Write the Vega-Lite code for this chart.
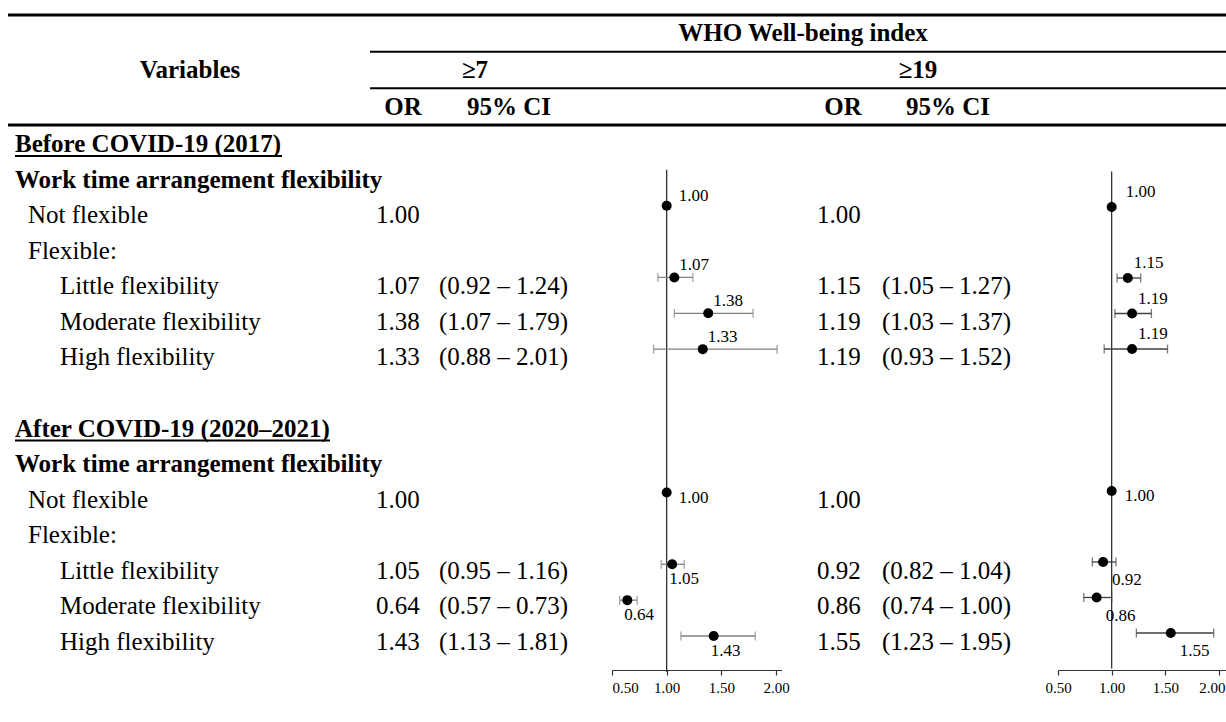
{
  "$schema": "https://vega.github.io/schema/vega-lite/v6.json",
  "width": 1226,
  "height": 722,
  "padding": 0,
  "autosize": {"type": "none"},
  "background": "white",
  "config": {
    "view": {"stroke": null},
    "font": "Liberation Serif",
    "text": {"font": "Liberation Serif", "color": "black"}
  },
  "datasets": {
    "header": [
      {"text": "WHO Well-being index", "level": 1, "col": 6},
      {"text": "Variables", "level": 3, "col": 1},
      {"text": "≥7", "level": 3, "col": 4},
      {"text": "≥19", "level": 3, "col": 8},
      {"text": "OR", "level": 5, "col": 3},
      {"text": "95% CI", "level": 5, "col": 5},
      {"text": "OR", "level": 5, "col": 7},
      {"text": "95% CI", "level": 5, "col": 9}
    ],
    "hrules": [
      {"level": 0, "from": 0, "to": 10, "rule": "outer"},
      {"level": 2, "from": 2, "to": 10, "rule": "inner"},
      {"level": 4, "from": 2, "to": 10, "rule": "inner"},
      {"level": 6, "from": 0, "to": 10, "rule": "outer"}
    ],
    "rows": [
      {"k": 0, "label": "Before COVID-19 (2017)", "type": "period", "indent": 0, "period": "Before"},
      {"k": 1, "label": "Work time arrangement flexibility", "type": "variable", "indent": 0, "period": "Before"},
      {"k": 2, "label": "Not flexible", "type": "category", "indent": 1, "period": "Before", "or7": 1.00, "or19": 1.00},
      {"k": 3, "label": "Flexible:", "type": "group", "indent": 1, "period": "Before"},
      {"k": 4, "label": "Little flexibility", "type": "category", "indent": 2, "period": "Before", "or7": 1.07, "lo7": 0.92, "hi7": 1.24, "ci7": "(0.92 – 1.24)", "or19": 1.15, "lo19": 1.05, "hi19": 1.27, "ci19": "(1.05 – 1.27)"},
      {"k": 5, "label": "Moderate flexibility", "type": "category", "indent": 2, "period": "Before", "or7": 1.38, "lo7": 1.07, "hi7": 1.79, "ci7": "(1.07 – 1.79)", "or19": 1.19, "lo19": 1.03, "hi19": 1.37, "ci19": "(1.03 – 1.37)"},
      {"k": 6, "label": "High flexibility", "type": "category", "indent": 2, "period": "Before", "or7": 1.33, "lo7": 0.88, "hi7": 2.01, "ci7": "(0.88 – 2.01)", "or19": 1.19, "lo19": 0.93, "hi19": 1.52, "ci19": "(0.93 – 1.52)"},
      {"k": 8, "label": "After COVID-19 (2020–2021)", "type": "period", "indent": 0, "period": "After"},
      {"k": 9, "label": "Work time arrangement flexibility", "type": "variable", "indent": 0, "period": "After"},
      {"k": 10, "label": "Not flexible", "type": "category", "indent": 1, "period": "After", "or7": 1.00, "or19": 1.00},
      {"k": 11, "label": "Flexible:", "type": "group", "indent": 1, "period": "After"},
      {"k": 12, "label": "Little flexibility", "type": "category", "indent": 2, "period": "After", "or7": 1.05, "lo7": 0.95, "hi7": 1.16, "ci7": "(0.95 – 1.16)", "or19": 0.92, "lo19": 0.82, "hi19": 1.04, "ci19": "(0.82 – 1.04)"},
      {"k": 13, "label": "Moderate flexibility", "type": "category", "indent": 2, "period": "After", "or7": 0.64, "lo7": 0.57, "hi7": 0.73, "ci7": "(0.57 – 0.73)", "or19": 0.86, "lo19": 0.74, "hi19": 1.00, "ci19": "(0.74 – 1.00)"},
      {"k": 14, "label": "High flexibility", "type": "category", "indent": 2, "period": "After", "or7": 1.43, "lo7": 1.13, "hi7": 1.81, "ci7": "(1.13 – 1.81)", "or19": 1.55, "lo19": 1.23, "hi19": 1.95, "ci19": "(1.23 – 1.95)"}
    ]
  },
  "layer": [
    {
      "data": {"name": "header"},
      "layer": [
        {
          "mark": {"type": "text", "fontWeight": "bold", "fontSize": 25, "align": "center", "baseline": "middle"},
          "encoding": {
            "x": {"field": "col", "type": "quantitative", "axis": null,
                  "scale": {"domain": [0, 1, 2, 3, 4, 5, 6, 7, 8, 9, 10], "range": [8, 190, 370, 403, 475, 509, 803, 843, 918, 948, 1226], "nice": false, "zero": false}},
            "y": {"field": "level", "type": "quantitative", "axis": null,
                  "scale": {"domain": [0, 6], "range": [15, 125], "nice": false, "zero": false}},
            "text": {"field": "text"}
          }
        },
        {
          "data": {"name": "hrules"},
          "transform": [{"filter": "datum.rule == 'outer'"}],
          "mark": {"type": "rule", "strokeWidth": 3, "color": "black"},
          "encoding": {
            "x": {"field": "from", "type": "quantitative"},
            "x2": {"field": "to"},
            "y": {"field": "level", "type": "quantitative"}
          }
        },
        {
          "data": {"name": "hrules"},
          "transform": [{"filter": "datum.rule == 'inner'"}],
          "mark": {"type": "rule", "strokeWidth": 2, "color": "black"},
          "encoding": {
            "x": {"field": "from", "type": "quantitative"},
            "x2": {"field": "to"},
            "y": {"field": "level", "type": "quantitative"}
          }
        }
      ]
    },
    {
      "data": {"name": "rows"},
      "layer": [
        {
          "transform": [{"filter": "datum.type == 'period' || datum.type == 'variable'"}],
          "mark": {"type": "text", "fontWeight": "bold", "fontSize": 25, "align": "left", "baseline": "middle"},
          "encoding": {
            "x": {"field": "indent", "type": "quantitative", "axis": null,
                  "scale": {"domain": [0, 1, 2, 3, 4, 5, 6, 7, 8], "range": [15, 28, 60, 282, 330, 376, 439, 817, 882], "nice": false, "zero": false}},
            "y": {"field": "k", "type": "quantitative", "axis": null,
                  "scale": {"domain": [0, 14], "range": [144, 642], "nice": false, "zero": false}},
            "text": {"field": "label"}
          }
        },
        {
          "transform": [{"filter": "datum.type == 'category' || datum.type == 'group'"}],
          "mark": {"type": "text", "fontSize": 25, "align": "left", "baseline": "middle"},
          "encoding": {
            "x": {"field": "indent", "type": "quantitative"},
            "y": {"field": "k", "type": "quantitative"},
            "text": {"field": "label"}
          }
        },
        {
          "transform": [{"filter": "datum.type == 'period' && datum.period == 'Before'"}],
          "mark": {"type": "rule", "strokeWidth": 2, "color": "black", "yOffset": 12},
          "encoding": {
            "x": {"datum": 0, "type": "quantitative"},
            "x2": {"datum": 3},
            "y": {"field": "k", "type": "quantitative"}
          }
        },
        {
          "transform": [{"filter": "datum.type == 'period' && datum.period == 'After'"}],
          "mark": {"type": "rule", "strokeWidth": 2, "color": "black", "yOffset": 12},
          "encoding": {
            "x": {"datum": 0, "type": "quantitative"},
            "x2": {"datum": 4},
            "y": {"field": "k", "type": "quantitative"}
          }
        },
        {
          "transform": [{"filter": "datum.or7 != null"}],
          "mark": {"type": "text", "fontSize": 25, "align": "left", "baseline": "middle"},
          "encoding": {
            "x": {"datum": 5, "type": "quantitative"},
            "y": {"field": "k", "type": "quantitative"},
            "text": {"field": "or7", "type": "quantitative", "format": ".2f"}
          }
        },
        {
          "transform": [{"filter": "datum.ci7 != null"}],
          "mark": {"type": "text", "fontSize": 25, "align": "left", "baseline": "middle"},
          "encoding": {
            "x": {"datum": 6, "type": "quantitative"},
            "y": {"field": "k", "type": "quantitative"},
            "text": {"field": "ci7"}
          }
        },
        {
          "transform": [{"filter": "datum.or19 != null"}],
          "mark": {"type": "text", "fontSize": 25, "align": "left", "baseline": "middle"},
          "encoding": {
            "x": {"datum": 7, "type": "quantitative"},
            "y": {"field": "k", "type": "quantitative"},
            "text": {"field": "or19", "type": "quantitative", "format": ".2f"}
          }
        },
        {
          "transform": [{"filter": "datum.ci19 != null"}],
          "mark": {"type": "text", "fontSize": 25, "align": "left", "baseline": "middle"},
          "encoding": {
            "x": {"datum": 8, "type": "quantitative"},
            "y": {"field": "k", "type": "quantitative"},
            "text": {"field": "ci19"}
          }
        }
      ]
    },
    {
      "data": {"name": "rows"},
      "transform": [{"filter": "datum.or7 != null"}],
      "layer": [
        {
          "data": {"values": [{}]},
          "mark": {"type": "rule", "color": "#222222", "strokeWidth": 1.2},
          "encoding": {
            "x": {"datum": 1, "type": "quantitative",
                  "scale": {"domain": [0.5, 2.05], "range": [612, 781.5], "nice": false, "zero": false},
                  "axis": {"orient": "bottom", "offset": -52, "values": [0.5, 1, 1.5, 2], "format": ".2f", "title": null, "grid": false,
                           "labelFont": "Liberation Serif", "labelFontSize": 15, "labelColor": "black", "domainColor": "#333333", "tickColor": "#333333",
                           "domainWidth": 1.2, "tickWidth": 1.2, "tickSize": 5, "labelPadding": 5}},
            "y": {"datum": 1, "type": "quantitative", "axis": null,
                  "scale": {"domain": [0, 14], "range": [134, 636], "nice": false, "zero": false}},
            "y2": {"datum": 15}
          }
        },
        {
          "transform": [{"filter": "datum.lo7 != null"}],
          "mark": {"type": "rule", "color": "#808080", "strokeWidth": 1.3},
          "encoding": {
            "x": {"field": "lo7", "type": "quantitative"},
            "x2": {"field": "hi7"},
            "y": {"field": "k", "type": "quantitative"}
          }
        },
        {
          "transform": [{"filter": "datum.lo7 != null"}],
          "mark": {"type": "tick", "orient": "vertical", "color": "#808080", "size": 9, "thickness": 1.3},
          "encoding": {
            "x": {"field": "lo7", "type": "quantitative"},
            "y": {"field": "k", "type": "quantitative"}
          }
        },
        {
          "transform": [{"filter": "datum.lo7 != null"}],
          "mark": {"type": "tick", "orient": "vertical", "color": "#808080", "size": 9, "thickness": 1.3},
          "encoding": {
            "x": {"field": "hi7", "type": "quantitative"},
            "y": {"field": "k", "type": "quantitative"}
          }
        },
        {
          "mark": {"type": "circle", "size": 100, "color": "black", "opacity": 1},
          "encoding": {
            "x": {"field": "or7", "type": "quantitative"},
            "y": {"field": "k", "type": "quantitative"}
          }
        },
        {
          "transform": [{"filter": "datum.period == 'Before' && datum.lo7 == null"}],
          "mark": {"type": "text", "fontSize": 17, "align": "left", "baseline": "middle", "dx": 12, "dy": -10},
          "encoding": {
            "x": {"field": "or7", "type": "quantitative"},
            "y": {"field": "k", "type": "quantitative"},
            "text": {"field": "or7", "type": "quantitative", "format": ".2f"}
          }
        },
        {
          "transform": [{"filter": "datum.period == 'Before' && datum.lo7 != null"}],
          "mark": {"type": "text", "fontSize": 17, "align": "left", "baseline": "middle", "dx": 5, "dy": -12},
          "encoding": {
            "x": {"field": "or7", "type": "quantitative"},
            "y": {"field": "k", "type": "quantitative"},
            "text": {"field": "or7", "type": "quantitative", "format": ".2f"}
          }
        },
        {
          "transform": [{"filter": "datum.period == 'After' && datum.lo7 == null"}],
          "mark": {"type": "text", "fontSize": 17, "align": "left", "baseline": "middle", "dx": 12, "dy": 5},
          "encoding": {
            "x": {"field": "or7", "type": "quantitative"},
            "y": {"field": "k", "type": "quantitative"},
            "text": {"field": "or7", "type": "quantitative", "format": ".2f"}
          }
        },
        {
          "transform": [{"filter": "datum.period == 'After' && datum.lo7 != null"}],
          "mark": {"type": "text", "fontSize": 17, "align": "left", "baseline": "middle", "dx": -3, "dy": 15},
          "encoding": {
            "x": {"field": "or7", "type": "quantitative"},
            "y": {"field": "k", "type": "quantitative"},
            "text": {"field": "or7", "type": "quantitative", "format": ".2f"}
          }
        }
      ]
    },
    {
      "data": {"name": "rows"},
      "transform": [{"filter": "datum.or19 != null"}],
      "layer": [
        {
          "data": {"values": [{}]},
          "mark": {"type": "rule", "color": "#222222", "strokeWidth": 1.2},
          "encoding": {
            "x": {"datum": 1, "type": "quantitative",
                  "scale": {"domain": [0.5, 2.06], "range": [1058, 1225.5], "nice": false, "zero": false},
                  "axis": {"orient": "bottom", "offset": -52, "values": [0.5, 1, 1.5, 2], "format": ".2f", "title": null, "grid": false,
                           "labelFont": "Liberation Serif", "labelFontSize": 15, "labelColor": "black", "domainColor": "#333333", "tickColor": "#333333",
                           "domainWidth": 1.2, "tickWidth": 1.2, "tickSize": 5, "labelPadding": 5,
                           "labelAlign": {"condition": {"test": "datum.value == 2", "value": "right"}, "value": "center"},
                           "labelOffset": {"condition": {"test": "datum.value == 2", "value": 6}, "value": 0}}},
            "y": {"datum": 1, "type": "quantitative", "axis": null,
                  "scale": {"domain": [0, 14], "range": [136, 633], "nice": false, "zero": false}},
            "y2": {"datum": 15}
          }
        },
        {
          "transform": [{"filter": "datum.lo19 != null"}],
          "mark": {"type": "rule", "color": "#404040", "strokeWidth": 1.3},
          "encoding": {
            "x": {"field": "lo19", "type": "quantitative"},
            "x2": {"field": "hi19"},
            "y": {"field": "k", "type": "quantitative"}
          }
        },
        {
          "transform": [{"filter": "datum.lo19 != null"}],
          "mark": {"type": "tick", "orient": "vertical", "color": "#404040", "size": 9, "thickness": 1.3},
          "encoding": {
            "x": {"field": "lo19", "type": "quantitative"},
            "y": {"field": "k", "type": "quantitative"}
          }
        },
        {
          "transform": [{"filter": "datum.lo19 != null"}],
          "mark": {"type": "tick", "orient": "vertical", "color": "#404040", "size": 9, "thickness": 1.3},
          "encoding": {
            "x": {"field": "hi19", "type": "quantitative"},
            "y": {"field": "k", "type": "quantitative"}
          }
        },
        {
          "mark": {"type": "circle", "size": 100, "color": "black", "opacity": 1},
          "encoding": {
            "x": {"field": "or19", "type": "quantitative"},
            "y": {"field": "k", "type": "quantitative"}
          }
        },
        {
          "transform": [{"filter": "datum.period == 'Before' && datum.lo19 == null"}],
          "mark": {"type": "text", "fontSize": 17, "align": "left", "baseline": "middle", "dx": 14, "dy": -15},
          "encoding": {
            "x": {"field": "or19", "type": "quantitative"},
            "y": {"field": "k", "type": "quantitative"},
            "text": {"field": "or19", "type": "quantitative", "format": ".2f"}
          }
        },
        {
          "transform": [{"filter": "datum.period == 'Before' && datum.lo19 != null"}],
          "mark": {"type": "text", "fontSize": 17, "align": "left", "baseline": "middle", "dx": 6, "dy": -15},
          "encoding": {
            "x": {"field": "or19", "type": "quantitative"},
            "y": {"field": "k", "type": "quantitative"},
            "text": {"field": "or19", "type": "quantitative", "format": ".2f"}
          }
        },
        {
          "transform": [{"filter": "datum.period == 'After' && datum.lo19 == null"}],
          "mark": {"type": "text", "fontSize": 17, "align": "left", "baseline": "middle", "dx": 13, "dy": 5},
          "encoding": {
            "x": {"field": "or19", "type": "quantitative"},
            "y": {"field": "k", "type": "quantitative"},
            "text": {"field": "or19", "type": "quantitative", "format": ".2f"}
          }
        },
        {
          "transform": [{"filter": "datum.period == 'After' && datum.lo19 != null"}],
          "mark": {"type": "text", "fontSize": 17, "align": "left", "baseline": "middle", "dx": 9, "dy": 18},
          "encoding": {
            "x": {"field": "or19", "type": "quantitative"},
            "y": {"field": "k", "type": "quantitative"},
            "text": {"field": "or19", "type": "quantitative", "format": ".2f"}
          }
        }
      ]
    }
  ],
  "resolve": {"scale": {"x": "independent", "y": "independent"}, "axis": {"x": "independent", "y": "independent"}}
}
